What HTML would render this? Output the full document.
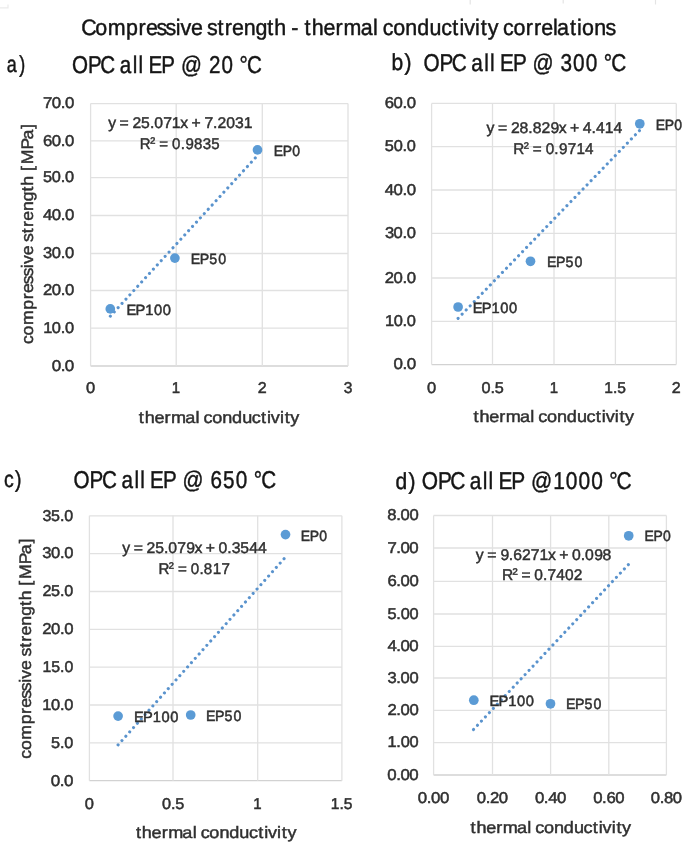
<!DOCTYPE html>
<html><head><meta charset="utf-8"><style>
html,body{margin:0;padding:0;background:#fff;}
svg{display:block;filter:blur(0.45px);}
text{font-family:"Liberation Sans", sans-serif;text-rendering:geometricPrecision;}
</style></head><body>
<svg width="685" height="844" viewBox="0 0 685 844">
<rect width="685" height="844" fill="#fff"/>
<path d="M0 7.9H8V4.4" fill="none" stroke="#ebebeb" stroke-width="1.2"/>
<line x1="470.2" y1="0" x2="470.2" y2="4.5" stroke="#e4e4e4" stroke-width="1.2"/>
<line x1="563.2" y1="0" x2="563.2" y2="3.5" stroke="#e4e4e4" stroke-width="1.2"/>
<line x1="655.5" y1="0" x2="655.5" y2="4.5" stroke="#e4e4e4" stroke-width="1.2"/>
<text transform="scale(0.9595,1)" x="84.57 99.27 112.24 131.41 144.33 152.05 163.14 172.58 183.10 188.16 199.04 210.98 215.68 226.67 234.21 241.93 254.04 266.39 278.62 285.74 298.21 303.60 311.05 317.31 324.79 337.10 349.79 358.07 375.86 388.83 394.05 399.01 409.85 422.49 434.90 447.66 459.76 471.27 478.87 483.75 495.12 501.14 508.22 519.35 524.30 535.14 548.05 556.46 564.18 576.36 580.48 593.94 601.31 606.49 619.33 630.99" y="35.20" font-size="22.34" fill="#151515" stroke="#151515" stroke-width="0.45">Compressive strength - thermal conductivity correlations</text>
<text transform="scale(0.7804,1)" x="8.54 24.72" y="72.20" font-size="23.05" fill="#151515" stroke="#151515" stroke-width="0.45">a)</text>
<text transform="scale(0.8469,1)" x="84.92 103.92 118.49 135.21 141.47 156.79 163.58 169.64 175.38 190.54 206.05 213.78 239.19 246.68 261.53 275.86 282.72 291.63" y="72.90" font-size="24.30" fill="#151515" stroke="#151515" stroke-width="0.45">OPC all EP @ 20 °C</text>
<text transform="scale(0.9121,1)" x="429.36 443.46" y="69.90" font-size="23.05" fill="#151515" stroke="#151515" stroke-width="0.45">b)</text>
<text transform="scale(0.8543,1)" x="495.66 514.51 528.95 545.60 551.74 566.97 573.70 579.73 585.35 600.37 615.83 623.38 648.67 656.11 670.76 685.63 699.89 706.64 715.44" y="70.90" font-size="24.30" fill="#151515" stroke="#151515" stroke-width="0.45">OPC all EP @ 300 °C</text>
<text transform="scale(0.8463,1)" x="4.65 17.64" y="487.00" font-size="23.05" fill="#151515" stroke="#151515" stroke-width="0.45">c)</text>
<text transform="scale(0.8494,1)" x="86.54 105.49 120.02 136.71 142.93 158.22 164.99 171.04 176.74 191.85 207.34 215.01 240.38 247.85 262.55 277.59 291.89 298.71 307.59" y="487.90" font-size="24.30" fill="#151515" stroke="#151515" stroke-width="0.45">OPC all EP @ 650 °C</text>
<text transform="scale(0.9121,1)" x="433.51 448.00" y="488.60" font-size="23.05" fill="#151515" stroke="#151515" stroke-width="0.45">d)</text>
<text transform="scale(0.8601,1)" x="490.43 509.16 523.50 540.10 546.15 561.31 568.00 574.01 579.53 594.45 609.86 617.28 643.32 657.80 672.56 687.33 701.54 708.22 716.93" y="488.90" font-size="24.30" fill="#151515" stroke="#151515" stroke-width="0.45">OPC all EP @1000 °C</text>
<line x1="90.60" x2="348.00" y1="366.00" y2="366.00" stroke="#d2d2d2" stroke-width="1.3"/>
<line x1="90.60" x2="348.00" y1="328.10" y2="328.10" stroke="#e1e1e1" stroke-width="1.3"/>
<line x1="90.60" x2="348.00" y1="290.50" y2="290.50" stroke="#e1e1e1" stroke-width="1.3"/>
<line x1="90.60" x2="348.00" y1="253.50" y2="253.50" stroke="#e1e1e1" stroke-width="1.3"/>
<line x1="90.60" x2="348.00" y1="215.50" y2="215.50" stroke="#e1e1e1" stroke-width="1.3"/>
<line x1="90.60" x2="348.00" y1="177.60" y2="177.60" stroke="#e1e1e1" stroke-width="1.3"/>
<line x1="90.60" x2="348.00" y1="140.80" y2="140.80" stroke="#e1e1e1" stroke-width="1.3"/>
<line x1="90.60" x2="348.00" y1="103.60" y2="103.60" stroke="#e1e1e1" stroke-width="1.3"/>
<line x1="90.60" x2="90.60" y1="103.60" y2="366.00" stroke="#e1e1e1" stroke-width="1.3"/>
<line x1="176.20" x2="176.20" y1="103.60" y2="366.00" stroke="#e1e1e1" stroke-width="1.3"/>
<line x1="262.30" x2="262.30" y1="103.60" y2="366.00" stroke="#e1e1e1" stroke-width="1.3"/>
<line x1="348.00" x2="348.00" y1="103.60" y2="366.00" stroke="#e1e1e1" stroke-width="1.3"/>
<text transform="scale(1.0848,1)" x="47.62 55.94 59.80" y="370.80" font-size="15.66" fill="#303030" stroke="#303030" stroke-width="0.5">0.0</text>
<text transform="scale(1.0477,1)" x="41.21 49.49 58.03 62.10" y="332.90" font-size="15.66" fill="#303030" stroke="#303030" stroke-width="0.5">10.0</text>
<text transform="scale(1.0670,1)" x="40.34 48.52 56.94 60.91" y="295.30" font-size="15.66" fill="#303030" stroke="#303030" stroke-width="0.5">20.0</text>
<text transform="scale(1.0566,1)" x="40.81 49.04 57.52 61.54" y="258.30" font-size="15.66" fill="#303030" stroke="#303030" stroke-width="0.5">30.0</text>
<text transform="scale(1.0719,1)" x="40.17 48.28 56.67 60.60" y="220.30" font-size="15.66" fill="#303030" stroke="#303030" stroke-width="0.5">40.0</text>
<text transform="scale(1.0421,1)" x="41.28 49.78 58.35 62.46" y="182.40" font-size="15.66" fill="#303030" stroke="#303030" stroke-width="0.5">50.0</text>
<text transform="scale(1.0673,1)" x="40.33 48.51 56.92 60.89" y="145.60" font-size="15.66" fill="#303030" stroke="#303030" stroke-width="0.5">60.0</text>
<text transform="scale(1.0743,1)" x="40.11 48.16 56.54 60.46" y="108.40" font-size="15.66" fill="#303030" stroke="#303030" stroke-width="0.5">70.0</text>
<text transform="scale(1.0532,1)" x="81.64" y="393.40" font-size="15.66" fill="#303030" stroke="#303030" stroke-width="0.5">0</text>
<text transform="scale(0.9579,1)" x="179.37" y="393.40" font-size="15.66" fill="#303030" stroke="#303030" stroke-width="0.5">1</text>
<text transform="scale(1.0256,1)" x="251.40" y="393.40" font-size="15.66" fill="#303030" stroke="#303030" stroke-width="0.5">2</text>
<text transform="scale(0.9942,1)" x="345.70" y="393.40" font-size="15.66" fill="#303030" stroke="#303030" stroke-width="0.5">3</text>
<line x1="110.30" y1="316.20" x2="257.50" y2="155.46" stroke="#5a93cd" stroke-width="3.1" stroke-dasharray="0.01 5.79" stroke-linecap="round"/>
<circle cx="110.30" cy="308.90" r="4.85" fill="#5b9bd5"/>
<text transform="scale(0.9863,1)" x="128.25 137.34 147.24 156.06 165.06" y="314.60" font-size="14.88" fill="#303030" stroke="#303030" stroke-width="0.5">EP100</text>
<circle cx="174.90" cy="258.10" r="4.85" fill="#5b9bd5"/>
<text transform="scale(0.9539,1)" x="200.05 209.45 219.42 228.77" y="263.50" font-size="14.88" fill="#303030" stroke="#303030" stroke-width="0.5">EP50</text>
<circle cx="257.50" cy="149.90" r="4.85" fill="#5b9bd5"/>
<text transform="scale(0.9389,1)" x="291.64 301.19 311.36" y="155.70" font-size="14.88" fill="#303030" stroke="#303030" stroke-width="0.5">EP0</text>
<text transform="scale(1.0130,1)" x="106.77 114.56 118.09 126.90 130.78 139.29 148.00 152.26 161.06 169.67 177.98 185.58 189.10 197.91 201.88 210.39 214.73 223.28 232.03 240.69" y="128.00" font-size="15.53" fill="#303030" stroke="#303030" stroke-width="0.45">y = 25.071x + 7.2031</text>
<text transform="scale(0.9677,1)" x="144.49 155.16 160.72 164.62 173.63 177.81 186.79 191.70 200.38 209.55 218.40" y="149.00" font-size="15.53" fill="#303030" stroke="#303030" stroke-width="0.45">R<tspan dy="-1.1">²</tspan><tspan dy="1.1"> = 0.9835</tspan></text>
<line x1="431.60" x2="676.30" y1="364.60" y2="364.60" stroke="#d2d2d2" stroke-width="1.3"/>
<line x1="431.60" x2="676.30" y1="321.30" y2="321.30" stroke="#e1e1e1" stroke-width="1.3"/>
<line x1="431.60" x2="676.30" y1="278.00" y2="278.00" stroke="#e1e1e1" stroke-width="1.3"/>
<line x1="431.60" x2="676.30" y1="233.40" y2="233.40" stroke="#e1e1e1" stroke-width="1.3"/>
<line x1="431.60" x2="676.30" y1="190.00" y2="190.00" stroke="#e1e1e1" stroke-width="1.3"/>
<line x1="431.60" x2="676.30" y1="146.60" y2="146.60" stroke="#e1e1e1" stroke-width="1.3"/>
<line x1="431.60" x2="676.30" y1="103.40" y2="103.40" stroke="#e1e1e1" stroke-width="1.3"/>
<line x1="431.60" x2="431.60" y1="103.40" y2="364.60" stroke="#e1e1e1" stroke-width="1.3"/>
<line x1="492.50" x2="492.50" y1="103.40" y2="364.60" stroke="#e1e1e1" stroke-width="1.3"/>
<line x1="554.00" x2="554.00" y1="103.40" y2="364.60" stroke="#e1e1e1" stroke-width="1.3"/>
<line x1="615.40" x2="615.40" y1="103.40" y2="364.60" stroke="#e1e1e1" stroke-width="1.3"/>
<line x1="676.30" x2="676.30" y1="103.40" y2="364.60" stroke="#e1e1e1" stroke-width="1.3"/>
<text transform="scale(1.0848,1)" x="362.71 371.03 374.89" y="369.40" font-size="15.66" fill="#303030" stroke="#303030" stroke-width="0.5">0.0</text>
<text transform="scale(1.0477,1)" x="367.44 375.72 384.26 388.33" y="326.10" font-size="15.66" fill="#303030" stroke="#303030" stroke-width="0.5">10.0</text>
<text transform="scale(1.0670,1)" x="360.69 368.87 377.29 381.25" y="282.80" font-size="15.66" fill="#303030" stroke="#303030" stroke-width="0.5">20.0</text>
<text transform="scale(1.0566,1)" x="364.29 372.52 380.99 385.02" y="238.20" font-size="15.66" fill="#303030" stroke="#303030" stroke-width="0.5">30.0</text>
<text transform="scale(1.0719,1)" x="359.03 367.14 375.53 379.46" y="194.80" font-size="15.66" fill="#303030" stroke="#303030" stroke-width="0.5">40.0</text>
<text transform="scale(1.0421,1)" x="369.26 377.77 386.33 390.45" y="151.40" font-size="15.66" fill="#303030" stroke="#303030" stroke-width="0.5">50.0</text>
<text transform="scale(1.0673,1)" x="360.59 368.77 377.19 381.15" y="108.20" font-size="15.66" fill="#303030" stroke="#303030" stroke-width="0.5">60.0</text>
<text transform="scale(1.0532,1)" x="405.40" y="392.50" font-size="15.66" fill="#303030" stroke="#303030" stroke-width="0.5">0</text>
<text transform="scale(1.0370,1)" x="464.40 473.00 477.10" y="392.50" font-size="15.66" fill="#303030" stroke="#303030" stroke-width="0.5">0.5</text>
<text transform="scale(0.9579,1)" x="573.80" y="392.50" font-size="15.66" fill="#303030" stroke="#303030" stroke-width="0.5">1</text>
<text transform="scale(0.9950,1)" x="607.34 616.05 620.41" y="392.50" font-size="15.66" fill="#303030" stroke="#303030" stroke-width="0.5">1.5</text>
<text transform="scale(1.0256,1)" x="655.05" y="392.50" font-size="15.66" fill="#303030" stroke="#303030" stroke-width="0.5">2</text>
<line x1="458.10" y1="318.30" x2="640.00" y2="130.03" stroke="#5a93cd" stroke-width="3.1" stroke-dasharray="0.01 5.79" stroke-linecap="round"/>
<circle cx="458.10" cy="307.00" r="4.85" fill="#5b9bd5"/>
<text transform="scale(0.9863,1)" x="479.35 488.44 498.34 507.16 516.15" y="313.00" font-size="14.88" fill="#303030" stroke="#303030" stroke-width="0.5">EP100</text>
<circle cx="530.50" cy="261.30" r="4.85" fill="#5b9bd5"/>
<text transform="scale(0.9539,1)" x="573.47 582.87 592.84 602.19" y="267.20" font-size="14.88" fill="#303030" stroke="#303030" stroke-width="0.5">EP50</text>
<circle cx="639.80" cy="123.80" r="4.85" fill="#5b9bd5"/>
<text transform="scale(0.9389,1)" x="698.44 707.99 718.16" y="130.00" font-size="14.88" fill="#303030" stroke="#303030" stroke-width="0.5">EP0</text>
<text transform="scale(1.0156,1)" x="479.09 486.88 490.38 499.18 503.04 511.57 520.23 524.47 533.16 542.02 550.12 557.71 561.21 570.01 573.91 582.45 586.80 595.44 604.02" y="133.10" font-size="15.53" fill="#303030" stroke="#303030" stroke-width="0.45">y = 28.829x + 4.414</text>
<text transform="scale(0.9813,1)" x="523.17 533.73 539.25 543.03 551.98 556.04 564.92 569.74 578.47 587.37 596.23" y="154.10" font-size="15.53" fill="#303030" stroke="#303030" stroke-width="0.45">R<tspan dy="-1.1">²</tspan><tspan dy="1.1"> = 0.9714</tspan></text>
<line x1="89.40" x2="341.90" y1="780.70" y2="780.70" stroke="#d2d2d2" stroke-width="1.3"/>
<line x1="89.40" x2="341.90" y1="742.86" y2="742.86" stroke="#e1e1e1" stroke-width="1.3"/>
<line x1="89.40" x2="341.90" y1="705.01" y2="705.01" stroke="#e1e1e1" stroke-width="1.3"/>
<line x1="89.40" x2="341.90" y1="667.17" y2="667.17" stroke="#e1e1e1" stroke-width="1.3"/>
<line x1="89.40" x2="341.90" y1="629.33" y2="629.33" stroke="#e1e1e1" stroke-width="1.3"/>
<line x1="89.40" x2="341.90" y1="591.49" y2="591.49" stroke="#e1e1e1" stroke-width="1.3"/>
<line x1="89.40" x2="341.90" y1="553.64" y2="553.64" stroke="#e1e1e1" stroke-width="1.3"/>
<line x1="89.40" x2="341.90" y1="515.80" y2="515.80" stroke="#e1e1e1" stroke-width="1.3"/>
<line x1="89.40" x2="89.40" y1="515.80" y2="780.70" stroke="#e1e1e1" stroke-width="1.3"/>
<line x1="173.00" x2="173.00" y1="515.80" y2="780.70" stroke="#e1e1e1" stroke-width="1.3"/>
<line x1="257.70" x2="257.70" y1="515.80" y2="780.70" stroke="#e1e1e1" stroke-width="1.3"/>
<line x1="341.90" x2="341.90" y1="515.80" y2="780.70" stroke="#e1e1e1" stroke-width="1.3"/>
<text transform="scale(1.0848,1)" x="46.89 55.20 59.07" y="785.50" font-size="15.66" fill="#303030" stroke="#303030" stroke-width="0.5">0.0</text>
<text transform="scale(1.0370,1)" x="49.20 57.84 61.99" y="747.66" font-size="15.66" fill="#303030" stroke="#303030" stroke-width="0.5">5.0</text>
<text transform="scale(1.0477,1)" x="40.45 48.73 57.26 61.34" y="709.81" font-size="15.66" fill="#303030" stroke="#303030" stroke-width="0.5">10.0</text>
<text transform="scale(1.0138,1)" x="41.95 50.46 59.25 63.54" y="671.97" font-size="15.66" fill="#303030" stroke="#303030" stroke-width="0.5">15.0</text>
<text transform="scale(1.0670,1)" x="39.59 47.77 56.19 60.16" y="634.13" font-size="15.66" fill="#303030" stroke="#303030" stroke-width="0.5">20.0</text>
<text transform="scale(1.0336,1)" x="41.00 49.41 58.07 62.24" y="596.29" font-size="15.66" fill="#303030" stroke="#303030" stroke-width="0.5">25.0</text>
<text transform="scale(1.0566,1)" x="40.06 48.28 56.76 60.79" y="558.44" font-size="15.66" fill="#303030" stroke="#303030" stroke-width="0.5">30.0</text>
<text transform="scale(1.0237,1)" x="41.49 49.93 58.66 62.88" y="520.60" font-size="15.66" fill="#303030" stroke="#303030" stroke-width="0.5">35.0</text>
<text transform="scale(1.0532,1)" x="80.50" y="809.00" font-size="15.66" fill="#303030" stroke="#303030" stroke-width="0.5">0</text>
<text transform="scale(1.0370,1)" x="156.31 164.91 169.01" y="809.00" font-size="15.66" fill="#303030" stroke="#303030" stroke-width="0.5">0.5</text>
<text transform="scale(0.9579,1)" x="264.46" y="809.00" font-size="15.66" fill="#303030" stroke="#303030" stroke-width="0.5">1</text>
<text transform="scale(0.9950,1)" x="332.47 341.18 345.55" y="809.00" font-size="15.66" fill="#303030" stroke="#303030" stroke-width="0.5">1.5</text>
<line x1="118.10" y1="744.90" x2="285.50" y2="557.08" stroke="#5a93cd" stroke-width="3.1" stroke-dasharray="0.01 5.79" stroke-linecap="round"/>
<circle cx="118.10" cy="716.10" r="4.85" fill="#5b9bd5"/>
<text transform="scale(0.9863,1)" x="135.90 145.00 154.89 163.72 172.71" y="721.70" font-size="14.88" fill="#303030" stroke="#303030" stroke-width="0.5">EP100</text>
<circle cx="190.70" cy="715.00" r="4.85" fill="#5b9bd5"/>
<text transform="scale(0.9539,1)" x="216.09 225.49 235.46 244.81" y="720.70" font-size="14.88" fill="#303030" stroke="#303030" stroke-width="0.5">EP50</text>
<circle cx="285.50" cy="534.60" r="4.85" fill="#5b9bd5"/>
<text transform="scale(0.9389,1)" x="320.35 329.89 340.06" y="540.50" font-size="14.88" fill="#303030" stroke="#303030" stroke-width="0.5">EP0</text>
<text transform="scale(1.0146,1)" x="120.53 128.32 131.83 140.63 144.50 153.00 161.70 165.95 174.74 183.52 191.63 199.22 202.73 211.54 215.33 223.99 228.36 236.81 245.59 254.21" y="553.20" font-size="15.53" fill="#303030" stroke="#303030" stroke-width="0.45">y = 25.079x + 0.3544</text>
<text transform="scale(0.9752,1)" x="162.50 173.11 178.65 182.48 191.46 195.58 204.50 209.01 218.13 227.11" y="574.40" font-size="15.53" fill="#303030" stroke="#303030" stroke-width="0.45">R<tspan dy="-1.1">²</tspan><tspan dy="1.1"> = 0.817</tspan></text>
<line x1="433.60" x2="666.40" y1="775.00" y2="775.00" stroke="#d2d2d2" stroke-width="1.3"/>
<line x1="433.60" x2="666.40" y1="742.60" y2="742.60" stroke="#e1e1e1" stroke-width="1.3"/>
<line x1="433.60" x2="666.40" y1="710.40" y2="710.40" stroke="#e1e1e1" stroke-width="1.3"/>
<line x1="433.60" x2="666.40" y1="678.00" y2="678.00" stroke="#e1e1e1" stroke-width="1.3"/>
<line x1="433.60" x2="666.40" y1="646.30" y2="646.30" stroke="#e1e1e1" stroke-width="1.3"/>
<line x1="433.60" x2="666.40" y1="614.00" y2="614.00" stroke="#e1e1e1" stroke-width="1.3"/>
<line x1="433.60" x2="666.40" y1="581.30" y2="581.30" stroke="#e1e1e1" stroke-width="1.3"/>
<line x1="433.60" x2="666.40" y1="548.00" y2="548.00" stroke="#e1e1e1" stroke-width="1.3"/>
<line x1="433.60" x2="666.40" y1="515.50" y2="515.50" stroke="#e1e1e1" stroke-width="1.3"/>
<line x1="433.60" x2="433.60" y1="515.50" y2="775.00" stroke="#e1e1e1" stroke-width="1.3"/>
<line x1="492.50" x2="492.50" y1="515.50" y2="775.00" stroke="#e1e1e1" stroke-width="1.3"/>
<line x1="550.60" x2="550.60" y1="515.50" y2="775.00" stroke="#e1e1e1" stroke-width="1.3"/>
<line x1="608.80" x2="608.80" y1="515.50" y2="775.00" stroke="#e1e1e1" stroke-width="1.3"/>
<line x1="666.40" x2="666.40" y1="515.50" y2="775.00" stroke="#e1e1e1" stroke-width="1.3"/>
<text transform="scale(1.0749,1)" x="360.32 368.69 372.61 380.82" y="779.80" font-size="15.66" fill="#303030" stroke="#303030" stroke-width="0.5">0.00</text>
<text transform="scale(1.0477,1)" x="369.92 378.32 382.40 390.82" y="747.40" font-size="15.66" fill="#303030" stroke="#303030" stroke-width="0.5">1.00</text>
<text transform="scale(1.0670,1)" x="363.12 371.46 375.43 383.69" y="715.20" font-size="15.66" fill="#303030" stroke="#303030" stroke-width="0.5">2.00</text>
<text transform="scale(1.0566,1)" x="366.75 375.11 379.13 387.48" y="682.80" font-size="15.66" fill="#303030" stroke="#303030" stroke-width="0.5">3.00</text>
<text transform="scale(1.0719,1)" x="361.45 369.73 373.66 381.89" y="651.10" font-size="15.66" fill="#303030" stroke="#303030" stroke-width="0.5">4.00</text>
<text transform="scale(1.0421,1)" x="371.76 380.37 384.48 392.94" y="618.80" font-size="15.66" fill="#303030" stroke="#303030" stroke-width="0.5">5.00</text>
<text transform="scale(1.0673,1)" x="363.03 371.36 375.32 383.59" y="586.10" font-size="15.66" fill="#303030" stroke="#303030" stroke-width="0.5">6.00</text>
<text transform="scale(1.0743,1)" x="360.69 368.90 372.82 381.03" y="552.80" font-size="15.66" fill="#303030" stroke="#303030" stroke-width="0.5">7.00</text>
<text transform="scale(1.0601,1)" x="365.42 373.88 377.88 386.20" y="520.30" font-size="15.66" fill="#303030" stroke="#303030" stroke-width="0.5">8.00</text>
<text transform="scale(1.0749,1)" x="388.76 397.13 401.05 409.25" y="802.70" font-size="15.66" fill="#303030" stroke="#303030" stroke-width="0.5">0.00</text>
<text transform="scale(1.0670,1)" x="446.89 455.31 459.35 467.54" y="802.70" font-size="15.66" fill="#303030" stroke="#303030" stroke-width="0.5">0.20</text>
<text transform="scale(1.0719,1)" x="499.00 507.39 511.44 519.55" y="802.70" font-size="15.66" fill="#303030" stroke="#303030" stroke-width="0.5">0.40</text>
<text transform="scale(1.0673,1)" x="555.74 564.16 568.20 576.38" y="802.70" font-size="15.66" fill="#303030" stroke="#303030" stroke-width="0.5">0.60</text>
<text transform="scale(1.0601,1)" x="613.85 622.31 626.31 634.63" y="802.70" font-size="15.66" fill="#303030" stroke="#303030" stroke-width="0.5">0.80</text>
<line x1="473.50" y1="729.50" x2="628.70" y2="564.21" stroke="#5a93cd" stroke-width="3.1" stroke-dasharray="0.01 5.79" stroke-linecap="round"/>
<circle cx="473.80" cy="700.20" r="4.85" fill="#5b9bd5"/>
<text transform="scale(0.9863,1)" x="496.28 505.37 515.27 524.09 533.09" y="706.10" font-size="14.88" fill="#303030" stroke="#303030" stroke-width="0.5">EP100</text>
<circle cx="550.50" cy="703.80" r="4.85" fill="#5b9bd5"/>
<text transform="scale(0.9539,1)" x="593.49 602.89 612.86 622.21" y="709.30" font-size="14.88" fill="#303030" stroke="#303030" stroke-width="0.5">EP50</text>
<circle cx="628.70" cy="535.80" r="4.85" fill="#5b9bd5"/>
<text transform="scale(0.9389,1)" x="686.57 696.11 706.28" y="541.30" font-size="14.88" fill="#303030" stroke="#303030" stroke-width="0.5">EP0</text>
<text transform="scale(1.0151,1)" x="468.74 476.52 480.03 488.83 492.95 501.28 505.61 514.21 522.91 531.51 539.80 547.39 550.90 559.70 563.48 572.14 576.39 585.34 593.61" y="559.70" font-size="15.53" fill="#303030" stroke="#303030" stroke-width="0.45">y = 9.6271x + 0.098</text>
<text transform="scale(0.9984,1)" x="502.82 513.26 518.72 522.36 531.23 535.16 543.92 548.44 557.15 565.79 574.63" y="580.20" font-size="15.53" fill="#303030" stroke="#303030" stroke-width="0.45">R<tspan dy="-1.1">²</tspan><tspan dy="1.1"> = 0.7402</tspan></text>
<text transform="scale(1.0974,1)" x="126.44 131.81 140.72 149.93 155.84 168.75 178.19 182.00 185.50 193.33 202.48 211.46 220.68 229.44 237.80 243.30 246.79 255.06 259.40 264.48" y="422.80" font-size="16.47" fill="#303030" stroke="#303030" stroke-width="0.45">thermal conductivity</text>
<text transform="scale(1.0974,1)" x="431.53 436.90 445.80 455.01 460.92 473.83 483.27 487.08 490.58 498.41 507.56 516.54 525.76 534.52 542.88 548.39 551.88 560.14 564.49 569.57" y="422.20" font-size="16.47" fill="#303030" stroke="#303030" stroke-width="0.45">thermal conductivity</text>
<text transform="scale(1.0974,1)" x="123.89 129.26 138.16 147.37 153.29 166.19 175.63 179.44 182.94 190.78 199.92 208.91 218.13 226.89 235.24 240.75 244.24 252.51 256.85 261.93" y="838.20" font-size="16.47" fill="#303030" stroke="#303030" stroke-width="0.45">thermal conductivity</text>
<text transform="scale(1.0974,1)" x="428.75 434.12 443.02 452.23 458.14 471.05 480.49 484.30 487.80 495.63 504.78 513.76 522.98 531.74 540.10 545.61 549.10 557.36 561.71 566.79" y="832.80" font-size="16.47" fill="#303030" stroke="#303030" stroke-width="0.45">thermal conductivity</text>
<text transform="rotate(-90) scale(1.0564,1)" x="-325.75 -317.49 -307.72 -293.17 -283.37 -277.47 -269.03 -261.85 -253.89 -249.99 -241.70 -232.70 -229.05 -220.72 -214.97 -209.06 -199.84 -190.44 -181.18 -175.72 -166.31 -161.92 -155.60 -141.53 -132.08 -122.07" y="32.80" font-size="16.68" fill="#303030" stroke="#303030" stroke-width="0.45">compressive strength [MPa]</text>
<text transform="rotate(-90) scale(1.0564,1)" x="-718.25 -709.99 -700.22 -685.67 -675.87 -669.97 -661.53 -654.35 -646.39 -642.49 -634.20 -625.20 -621.55 -613.21 -607.47 -601.56 -592.34 -582.94 -573.68 -568.22 -558.81 -554.42 -548.10 -534.03 -524.58 -514.57" y="31.40" font-size="16.68" fill="#303030" stroke="#303030" stroke-width="0.45">compressive strength [MPa]</text>
</svg>
</body></html>
